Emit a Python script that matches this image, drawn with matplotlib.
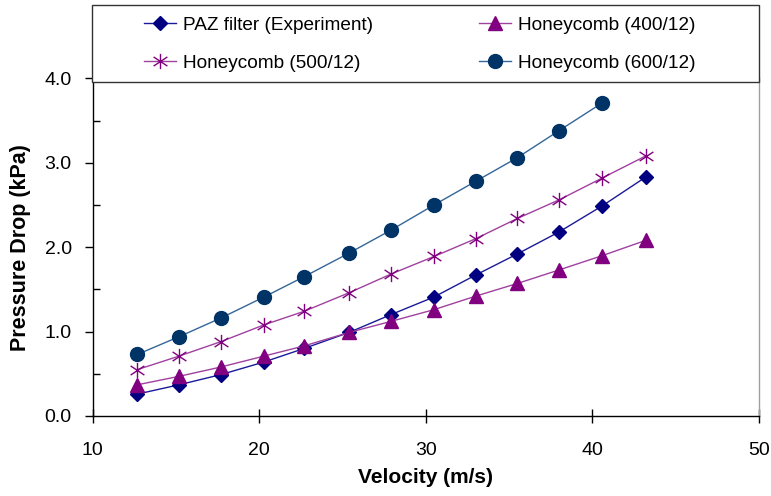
import matplotlib
matplotlib.use("Agg")
import matplotlib.pyplot as plt
from matplotlib.path import Path
from matplotlib.patches import Rectangle
from matplotlib.ticker import MultipleLocator, FormatStrFormatter

plt.rcParams['font.family'] = ['Liberation Sans', 'DejaVu Sans']

velocity = [12.7, 15.2, 17.7, 20.3, 22.7, 25.4, 27.9, 30.5, 33.0, 35.5, 38.0, 40.6, 43.2]
paz = [0.26, 0.37, 0.49, 0.64, 0.80, 0.99, 1.20, 1.41, 1.67, 1.92, 2.18, 2.49, 2.83]
hc400 = [0.37, 0.47, 0.58, 0.71, 0.83, 0.99, 1.12, 1.26, 1.42, 1.57, 1.73, 1.90, 2.08]
hc500 = [0.55, 0.71, 0.88, 1.08, 1.24, 1.46, 1.68, 1.89, 2.10, 2.34, 2.56, 2.82, 3.08]
hc600 = [0.73, 0.94, 1.16, 1.41, 1.65, 1.93, 2.20, 2.50, 2.78, 3.06, 3.38, 3.71]
labels = ["PAZ filter (Experiment)", "Honeycomb (400/12)", "Honeycomb (500/12)", "Honeycomb (600/12)"]

W, H = 771, 496
fig = plt.figure(figsize=(W / 100, H / 100), dpi=100)
ax = fig.add_axes([92.5 / W, 1 - 416 / H, (759 - 92.5) / W, (416 - 78.3) / H])

star = Path([(0, -1), (0, 1), (-0.9, -0.6), (0.9, 0.6), (-0.9, 0.6), (0.9, -0.6)],
            [Path.MOVETO, Path.LINETO, Path.MOVETO, Path.LINETO, Path.MOVETO, Path.LINETO])

l1, = ax.plot(velocity, paz, color='#1a1a99', lw=1.0, marker='D', ms=7.5,
              mfc='#000080', mec='#000080', label=labels[0])
l2, = ax.plot(velocity, hc400, color='#a040a0', lw=1.0, marker='^', ms=10,
              mfc='#800080', mec='#800080', label=labels[1])
l3, = ax.plot(velocity, hc500, color='#a040a0', lw=1.0, marker=star, ms=11,
              mfc='none', mec='#800080', mew=1.0, label=labels[2])
l4, = ax.plot(velocity[:len(hc600)], hc600, color='#336699', lw=1.0, marker='o', ms=10,
              mfc='#003366', mec='#003366', label=labels[3])

ax.set_xlim(10, 50)
ax.set_ylim(0, 4.0)
ax.xaxis.set_major_locator(MultipleLocator(10))
ax.yaxis.set_major_locator(MultipleLocator(1.0))
ax.yaxis.set_minor_locator(MultipleLocator(0.5))
ax.yaxis.set_major_formatter(FormatStrFormatter('%.1f'))

ax.tick_params(axis='x', which='major', direction='inout', length=10, width=1, pad=14, labelsize=14)
ax.tick_params(axis='y', which='major', direction='out', length=6, width=1, pad=9, labelsize=14)
ax.tick_params(axis='y', which='minor', direction='in', length=5, width=1)
ax.tick_params(axis='x', which='minor', bottom=False)

for s in ['left', 'bottom']:
    ax.spines[s].set_color('black')
    ax.spines[s].set_linewidth(1.0)
ax.spines['right'].set_color('#a0a0a0')
ax.spines['right'].set_linewidth(1.0)
ax.spines['top'].set_visible(False)

ax.set_xlabel('Velocity (m/s)', fontsize=15, fontweight='bold', labelpad=6)
ax.set_ylabel('Pressure Drop (kPa)', fontsize=15.5, fontweight='bold', labelpad=10)

# legend box
box = Rectangle((92 / W, 1 - 82 / H), (759 - 92) / W, (82 - 5) / H, transform=fig.transFigure,
                facecolor='white', edgecolor='#333333', lw=1.0, zorder=5)
fig.patches.append(box)

positions = [(144, 25), (479, 25), (144, 63), (479, 63)]
for h, (px, py) in zip([l1, l2, l3, l4], positions):
    leg = fig.legend(handles=[h], loc='center left', bbox_to_anchor=(px / W, 1 - py / H),
                     frameon=False, borderpad=0, borderaxespad=0, handlelength=1.7,
                     handletextpad=0.35, fontsize=13.7, numpoints=1)
    leg.set_zorder(6)

fig.savefig('out.png', dpi=100)
